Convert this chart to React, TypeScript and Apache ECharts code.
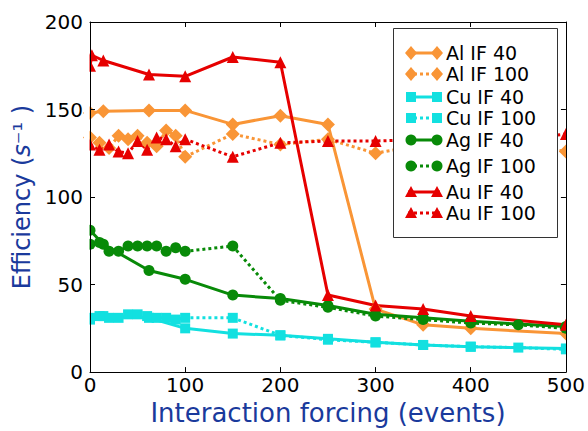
import React, { useEffect, useRef } from "react";
import * as echarts from "echarts";

const xIF40 = [0, 14, 62, 100, 150, 200, 250, 300, 350, 400, 500];
const xAuIF40 = [0, 2, 14, 62, 100, 150, 200, 250, 300, 350, 400, 500];
const xIF100 = [0, 10, 20, 30, 40, 50, 60, 70, 80, 90, 100, 150, 200, 250, 300, 350, 400, 450, 500];

const alIF40 = [148, 149, 149.5, 149.5, 141.5, 146.5, 141.5, 36, 27, 25, 22];
const alIF100 = [134, 131, 128, 135, 133, 135, 131, 129, 138, 135, 123, 136, 130, 133, 125, 130, 131, 130, 126];
const cuIF40 = [30, 32, 31, 25, 22, 21, 19, 17, 15.5, 14.5, 13.5];
const cuIF100 = [31, 32, 31, 31, 33, 33, 32, 31, 31, 30, 31, 31, 21, 18.5, 17, 15.5, 14.5, 14, 13];
const agIF40 = [81, 73, 58, 53, 44, 42, 38, 33, 31, 29, 26];
const agIF100 = [73, 74, 69, 69, 72, 72, 72, 72, 69, 71, 69, 72, 41, 37, 32, 30, 28, 27, 25];
const auIF40 = [175, 181, 178, 170, 169, 180, 177, 44, 38, 36, 32, 27];
const auIF100 = [130, 127, 130, 126, 125, 132, 127, 134, 133, 129, 133, 123, 131, 132, 132, 133, 133, 133, 136];

const ORANGE = "#f99536";
const CYAN = "#12e0e0";
const GREEN = "#088a08";
const RED = "#e60000";
const BLUE = "#1a3a9c";
const FONT = "DejaVu Sans";

type Spec = { name: string; xs: number[]; ys: number[]; color: string; symbol: string; size: number; dotted: boolean };

const specs: Spec[] = [
  { name: "Al IF 40", xs: xIF40, ys: alIF40, color: ORANGE, symbol: "diamond", size: 14, dotted: false },
  { name: "Al IF 100", xs: xIF100, ys: alIF100, color: ORANGE, symbol: "diamond", size: 14, dotted: true },
  { name: "Cu IF 40", xs: xIF40, ys: cuIF40, color: CYAN, symbol: "rect", size: 10, dotted: false },
  { name: "Cu IF 100", xs: xIF100, ys: cuIF100, color: CYAN, symbol: "rect", size: 10, dotted: true },
  { name: "Ag IF 40", xs: xIF40, ys: agIF40, color: GREEN, symbol: "circle", size: 11, dotted: false },
  { name: "Ag IF 100", xs: xIF100, ys: agIF100, color: GREEN, symbol: "circle", size: 11, dotted: true },
  { name: "Au IF 40", xs: xAuIF40, ys: auIF40, color: RED, symbol: "triangle", size: 12, dotted: false },
  { name: "Au IF 100", xs: xIF100, ys: auIF100, color: RED, symbol: "triangle", size: 12, dotted: true },
];

const LZ = 100;

function marker(symbol: string, cx: number, cy: number, color: string): any {
  const style = { fill: color };
  if (symbol === "diamond") {
    return { type: "polygon", z: LZ, shape: { points: [[cx - 6, cy], [cx, cy - 7], [cx + 6, cy], [cx, cy + 7]] }, style };
  }
  if (symbol === "rect") {
    return { type: "rect", z: LZ, shape: { x: cx - 5, y: cy - 5, width: 10, height: 10 }, style };
  }
  if (symbol === "circle") {
    return { type: "circle", z: LZ, shape: { cx, cy, r: 5.5 }, style };
  }
  return { type: "polygon", z: LZ, shape: { points: [[cx - 6, cy + 5], [cx, cy - 6], [cx + 6, cy + 5]] }, style };
}

function buildGraphics(): any[] {
  const rows = [53, 74, 97, 118, 140, 166, 192, 213];
  const els: any[] = [
    // masks that clip markers at the plot's left and right edges, like the original
    { type: "rect", z: 5, silent: true, shape: { x: 84, y: 14, width: 5.5, height: 368 }, style: { fill: "#fff" } },
    { type: "rect", z: 5, silent: true, shape: { x: 567, y: 14, width: 12, height: 368 }, style: { fill: "#fff" } },
    { type: "rect", z: LZ - 1, shape: { x: 393.5, y: 28.5, width: 164, height: 209 }, style: { fill: "#fff", stroke: "#333", lineWidth: 1 } },
  ];
  specs.forEach((s, i) => {
    const y = rows[i];
    els.push({
      type: "line",
      z: LZ,
      shape: { x1: 408, y1: y, x2: 440, y2: y },
      style: { stroke: s.color, lineWidth: 3, lineDash: s.dotted ? [3, 3] : null },
    });
    els.push(marker(s.symbol, 411, y, s.color));
    els.push(marker(s.symbol, 437, y, s.color));
    els.push({
      type: "text",
      z: LZ,
      x: 446,
      y,
      style: { text: s.name, fill: "#000", fontSize: 19, fontFamily: FONT, verticalAlign: "middle", align: "left" },
    });
  });
  return els;
}

export default function App() {
  const ref = useRef<HTMLDivElement>(null);
  useEffect(() => {
    if (!ref.current) return;
    const chart = echarts.init(ref.current, null, { renderer: "svg" });
    const axisCommon = {
      type: "value" as const,
      z: 10,
      splitLine: { show: false },
      axisLine: { show: true, onZero: false, lineStyle: { color: "#000", width: 1 } },
      axisTick: { show: true, inside: true, length: 5, lineStyle: { color: "#000" } },
    };
    chart.setOption({
      animation: false,
      backgroundColor: "#fff",
      textStyle: { fontFamily: FONT },
      grid: { left: 90, right: 22, top: 22, bottom: 49, containLabel: false },
      xAxis: [
        {
          ...axisCommon,
          min: 0,
          max: 500,
          interval: 100,
          position: "bottom",
          axisLabel: { color: "#000", fontSize: 20, fontFamily: FONT, margin: 3 },
          name: "Interaction forcing (events)",
          nameLocation: "middle",
          nameGap: 20,
          nameTextStyle: { color: BLUE, fontSize: 26, fontFamily: FONT },
        },
        { ...axisCommon, min: 0, max: 500, interval: 100, position: "top", axisLabel: { show: false } },
      ],
      yAxis: [
        {
          ...axisCommon,
          min: 0,
          max: 200,
          interval: 50,
          position: "left",
          axisLabel: { color: "#000", fontSize: 20, fontFamily: FONT, margin: 7 },
          name: "Efficiency ({i|s}⁻¹ )",
          nameLocation: "middle",
          nameGap: 56,
          nameTextStyle: {
            color: BLUE,
            fontSize: 24,
            fontFamily: FONT,
            rich: { i: { fontStyle: "italic", color: BLUE, fontSize: 24, fontFamily: FONT } },
          },
        },
        { ...axisCommon, min: 0, max: 200, interval: 50, position: "right", axisLabel: { show: false } },
      ],
      graphic: buildGraphics(),
      series: specs.map((s) => ({
        name: s.name,
        type: "line",
        xAxisIndex: 0,
        yAxisIndex: 0,
        data: s.xs.map((x, i) => [x, s.ys[i]]),
        symbol: s.symbol,
        symbolSize: s.size,
        showSymbol: true,
        clip: true,
        itemStyle: { color: s.color },
        lineStyle: { color: s.color, width: 3, type: s.dotted ? [3, 3] : "solid" },
        emphasis: { disabled: true },
      })),
    });
    return () => chart.dispose();
  }, []);
  return <div ref={ref} style={{ position: "absolute", left: 0, top: 0, width: 588, height: 431 }} />;
}
